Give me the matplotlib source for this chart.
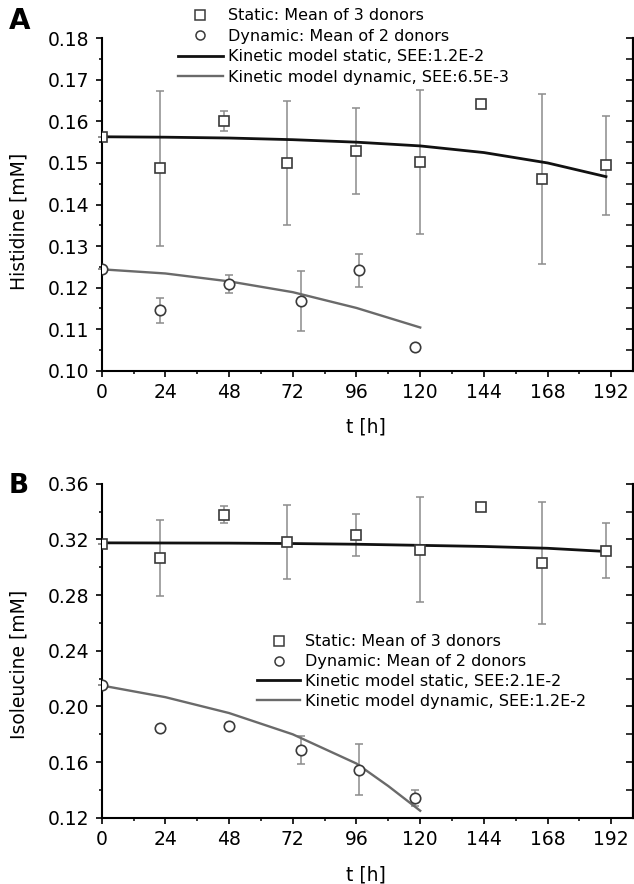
import matplotlib
matplotlib.use("Agg")
import matplotlib.pyplot as plt
from matplotlib.lines import Line2D
from matplotlib.ticker import MultipleLocator

plt.rcParams["font.family"] = ["DejaVu Sans"]

# ---- Panel A: histidine ----
his_static_t = [0, 22, 46, 70, 96, 120, 143, 166, 190]
his_static_mean = [0.1563, 0.1487, 0.1601, 0.1499, 0.1529, 0.1503, 0.1642, 0.1461, 0.1494]
his_static_err = [0.0, 0.0186, 0.0023, 0.0149, 0.0103, 0.0173, 0.0, 0.0205, 0.0120]

his_dyn_t = [0, 22, 48, 75, 97, 118]
his_dyn_mean = [0.1244, 0.1146, 0.1209, 0.1168, 0.1242, 0.1058]
his_dyn_err = [0.0, 0.0030, 0.0021, 0.0072, 0.0040, 0.0]

his_model_static_t = [0, 24, 48, 72, 96, 120, 144, 168, 190]
his_model_static = [0.1563, 0.1562, 0.1560, 0.1556, 0.1550, 0.1541, 0.1525, 0.1500, 0.1467]
his_model_dyn_t = [0, 24, 48, 72, 96, 120]
his_model_dyn = [0.1244, 0.1234, 0.1215, 0.1189, 0.1151, 0.1104]

# ---- Panel B: isoleucine ----
iso_static_t = [0, 22, 46, 70, 96, 120, 143, 166, 190]
iso_static_mean = [0.3168, 0.3067, 0.3377, 0.3180, 0.3233, 0.3127, 0.3432, 0.3029, 0.3118]
iso_static_err = [0.0, 0.0273, 0.0060, 0.0267, 0.0150, 0.0376, 0.0010, 0.0440, 0.0197]

iso_dyn_t = [0, 22, 48, 75, 97, 118]
iso_dyn_mean = [0.2150, 0.1847, 0.1856, 0.1684, 0.1546, 0.1343]
iso_dyn_err = [0.0, 0.0015, 0.0015, 0.0100, 0.0180, 0.0057]

iso_model_static_t = [0, 24, 48, 72, 96, 120, 144, 168, 190]
iso_model_static = [0.3175, 0.3174, 0.3173, 0.3170, 0.3165, 0.3157, 0.3149, 0.3136, 0.3113]
iso_model_dyn_t = [0, 24, 48, 72, 96, 108, 120]
iso_model_dyn = [0.2150, 0.2066, 0.1952, 0.1799, 0.1589, 0.1427, 0.1250]

legend_labels_a = ["Static: Mean of 3 donors", "Dynamic: Mean of 2 donors",
                   "Kinetic model static, SEE:1.2E-2", "Kinetic model dynamic, SEE:6.5E-3"]
legend_labels_b = ["Static: Mean of 3 donors", "Dynamic: Mean of 2 donors",
                   "Kinetic model static, SEE:2.1E-2", "Kinetic model dynamic, SEE:1.2E-2"]

W, H = 634, 884
ERR_C = "#8c8c8c"
EDGE_C = "#3a3a3a"
STATIC_C = "#111111"
DYN_C = "#6a6a6a"

fig = plt.figure(figsize=(W / 100, H / 100), dpi=100)
ax_w = 200 * 63.7 / 24 / W
ax_a = fig.add_axes([101.7 / W, 1 - 370.7 / H, ax_w, (370.7 - 38.3) / H])
ax_b = fig.add_axes([101.7 / W, 1 - 817.7 / H, ax_w, (817.7 - 483.7) / H])


def draw_panel(ax, st_t, st_m, st_e, dy_t, dy_m, dy_e, ms_t, ms, md_t, md):
    ax.errorbar(st_t, st_m, yerr=st_e, fmt="none", ecolor=ERR_C, elinewidth=1.1,
                capsize=3, capthick=1.1, zorder=2, clip_on=False)
    ax.errorbar(dy_t, dy_m, yerr=dy_e, fmt="none", ecolor=ERR_C, elinewidth=1.1,
                capsize=3, capthick=1.1, zorder=2, clip_on=False)
    ax.plot(ms_t, ms, color=STATIC_C, lw=2.0, zorder=3)
    ax.plot(md_t, md, color=DYN_C, lw=1.7, zorder=3)
    ax.plot(st_t, st_m, ls="none", marker="s", ms=7.5, mfc="white", mec=EDGE_C,
            mew=1.2, zorder=4)
    ax.plot(dy_t, dy_m, ls="none", marker="o", ms=7.5, mfc="white", mec=EDGE_C,
            mew=1.2, zorder=4)

    ax.set_xlim(0, 200)
    ax.xaxis.set_major_locator(MultipleLocator(24))
    ax.xaxis.set_minor_locator(MultipleLocator(12))
    ax.spines["top"].set_visible(False)
    for s in ["left", "bottom", "right"]:
        ax.spines[s].set_linewidth(1.5)
    ax.tick_params(axis="both", which="major", direction="out", length=4.5, width=1.2,
                   labelsize=13.5, pad=4.5)
    ax.tick_params(axis="both", which="minor", direction="out", length=2.5, width=1.1)
    ax.set_xlabel("t [h]", fontsize=13.5)
    ax.xaxis.set_label_coords(0.498, -0.142)


draw_panel(ax_a, his_static_t, his_static_mean, his_static_err,
           his_dyn_t, his_dyn_mean, his_dyn_err,
           his_model_static_t, his_model_static, his_model_dyn_t, his_model_dyn)
draw_panel(ax_b, iso_static_t, iso_static_mean, iso_static_err,
           iso_dyn_t, iso_dyn_mean, iso_dyn_err,
           iso_model_static_t, iso_model_static, iso_model_dyn_t, iso_model_dyn)

# left ticks point out, right ticks point in: draw right ticks via a twin axis
for ax, lo, hi, major, minor in [(ax_a, 0.10, 0.18, 0.01, 0.005),
                                 (ax_b, 0.12, 0.36, 0.04, 0.02)]:
    ax.set_ylim(lo, hi)
    ax.yaxis.set_major_locator(MultipleLocator(major))
    ax.yaxis.set_minor_locator(MultipleLocator(minor))
    ax.tick_params(axis="y", which="both", direction="out", right=False)
    tw = ax.twinx()
    tw.set_ylim(lo, hi)
    tw.yaxis.set_major_locator(MultipleLocator(major))
    tw.yaxis.set_minor_locator(MultipleLocator(minor))
    tw.tick_params(axis="y", which="major", direction="in", length=5, width=1.2, labelright=False)
    tw.tick_params(axis="y", which="minor", direction="in", length=5, width=1.1)
    for s in ["top", "left", "bottom"]:
        tw.spines[s].set_visible(False)
    tw.spines["right"].set_linewidth(1.5)

ax_a.yaxis.set_major_formatter(plt.FuncFormatter(lambda v, p: f"{v:.2f}"))
ax_b.yaxis.set_major_formatter(plt.FuncFormatter(lambda v, p: f"{v:.2f}"))

ax_a.set_ylabel("Histidine [mM]", fontsize=13.5)
ax_a.yaxis.set_label_coords(-0.137, 0.45)
ax_b.set_ylabel("Isoleucine [mM]", fontsize=13.5)
ax_b.yaxis.set_label_coords(-0.137, 0.46)

fig.text(20 / W, 1 - 21 / H, "A", fontsize=20, fontweight="bold", ha="center", va="center")
fig.text(19 / W, 1 - 486 / H, "B", fontsize=19, fontweight="bold", ha="center", va="center")


def legend_handles():
    return [
        Line2D([], [], ls="none", marker="s", ms=6.5, mfc="white", mec=EDGE_C, mew=1.1),
        Line2D([], [], ls="none", marker="o", ms=6.5, mfc="white", mec=EDGE_C, mew=1.1),
        Line2D([], [], color=STATIC_C, lw=2.0),
        Line2D([], [], color=DYN_C, lw=1.7),
    ]


ax_a.legend(legend_handles(), legend_labels_a, loc="upper left",
            bbox_to_anchor=(178 / W, 1 - 8.5 / H), bbox_transform=fig.transFigure,
            frameon=False, borderpad=0, borderaxespad=0, fontsize=11.5,
            handlelength=2.8, handletextpad=0.3, labelspacing=0.34)
ax_b.legend(legend_handles(), legend_labels_b, loc="upper left",
            bbox_to_anchor=(257 / W, 1 - 634.5 / H), bbox_transform=fig.transFigure,
            frameon=False, borderpad=0, borderaxespad=0, fontsize=11.5,
            handlelength=2.7, handletextpad=0.3, labelspacing=0.3)

fig.savefig("out.png", dpi=100)
